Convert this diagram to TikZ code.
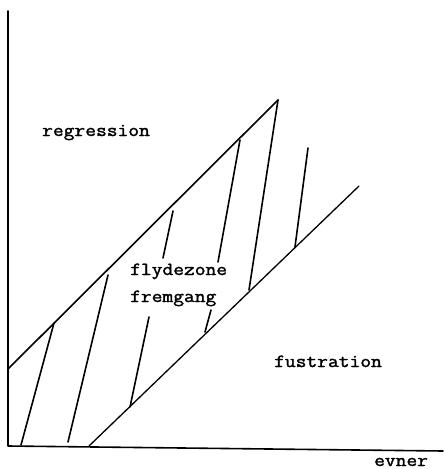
\documentclass[tikz,border=0pt]{standalone}
\usepackage{fontspec}
\newfontfamily\twfont{Latin Modern Mono}[FakeBold=1.6]
\tikzset{
  ln/.style={line width=1.6pt, line cap=round, line join=round},
  lbl/.style={anchor=base west, inner sep=0pt, font=\twfont\fontsize{18.5}{20}\selectfont}
}
\newcommand{\tw}[1]{\scalebox{1.13}[1]{#1}}
\begin{document}
\begin{tikzpicture}[x=1pt,y=-1pt]
\clip (0,0) rectangle (444,469);
\fill[white] (0,0) rectangle (444,469);
% axes
\coordinate (top) at (8,11);
\coordinate (orig) at (8,446);
\coordinate (xend) at (443,451);
\draw[ln] (top) -- (orig) -- (xend);
% boundaries
\coordinate (u0) at (8,369);
\coordinate (u1) at (278,100);
\coordinate (l0) at (89,446);
\coordinate (l1) at (359,186);
\draw[ln] (u0) -- (u1);
\draw[ln, line width=1.3pt] (l0) -- (l1);
% hatches
\draw[ln] (54,323) -- (21,445);
\draw[ln] (108,275) -- (68,442);
\draw[ln] (173,211) -- (163,258);
\draw[ln] (149,317) -- (130,407);
\draw[ln] (240,140) -- (218,262);
\draw[ln] (211,310) -- (205,332);
\draw[ln] (u1) -- (249,290);
\draw[ln] (308,148) -- (295,247);
% labels
\node[lbl] (reg) at (42,136) {\tw{regression}};
\node[lbl] (fly) at (130,275) {\tw{flydezone}};
\node[lbl] (frem) at (130,302) {\tw{fremgang}};
\node[lbl] (fus) at (274,367) {\tw{fustration}};
\node[lbl] (evn) at (374,466) {\tw{evner}};
\end{tikzpicture}
\end{document}
